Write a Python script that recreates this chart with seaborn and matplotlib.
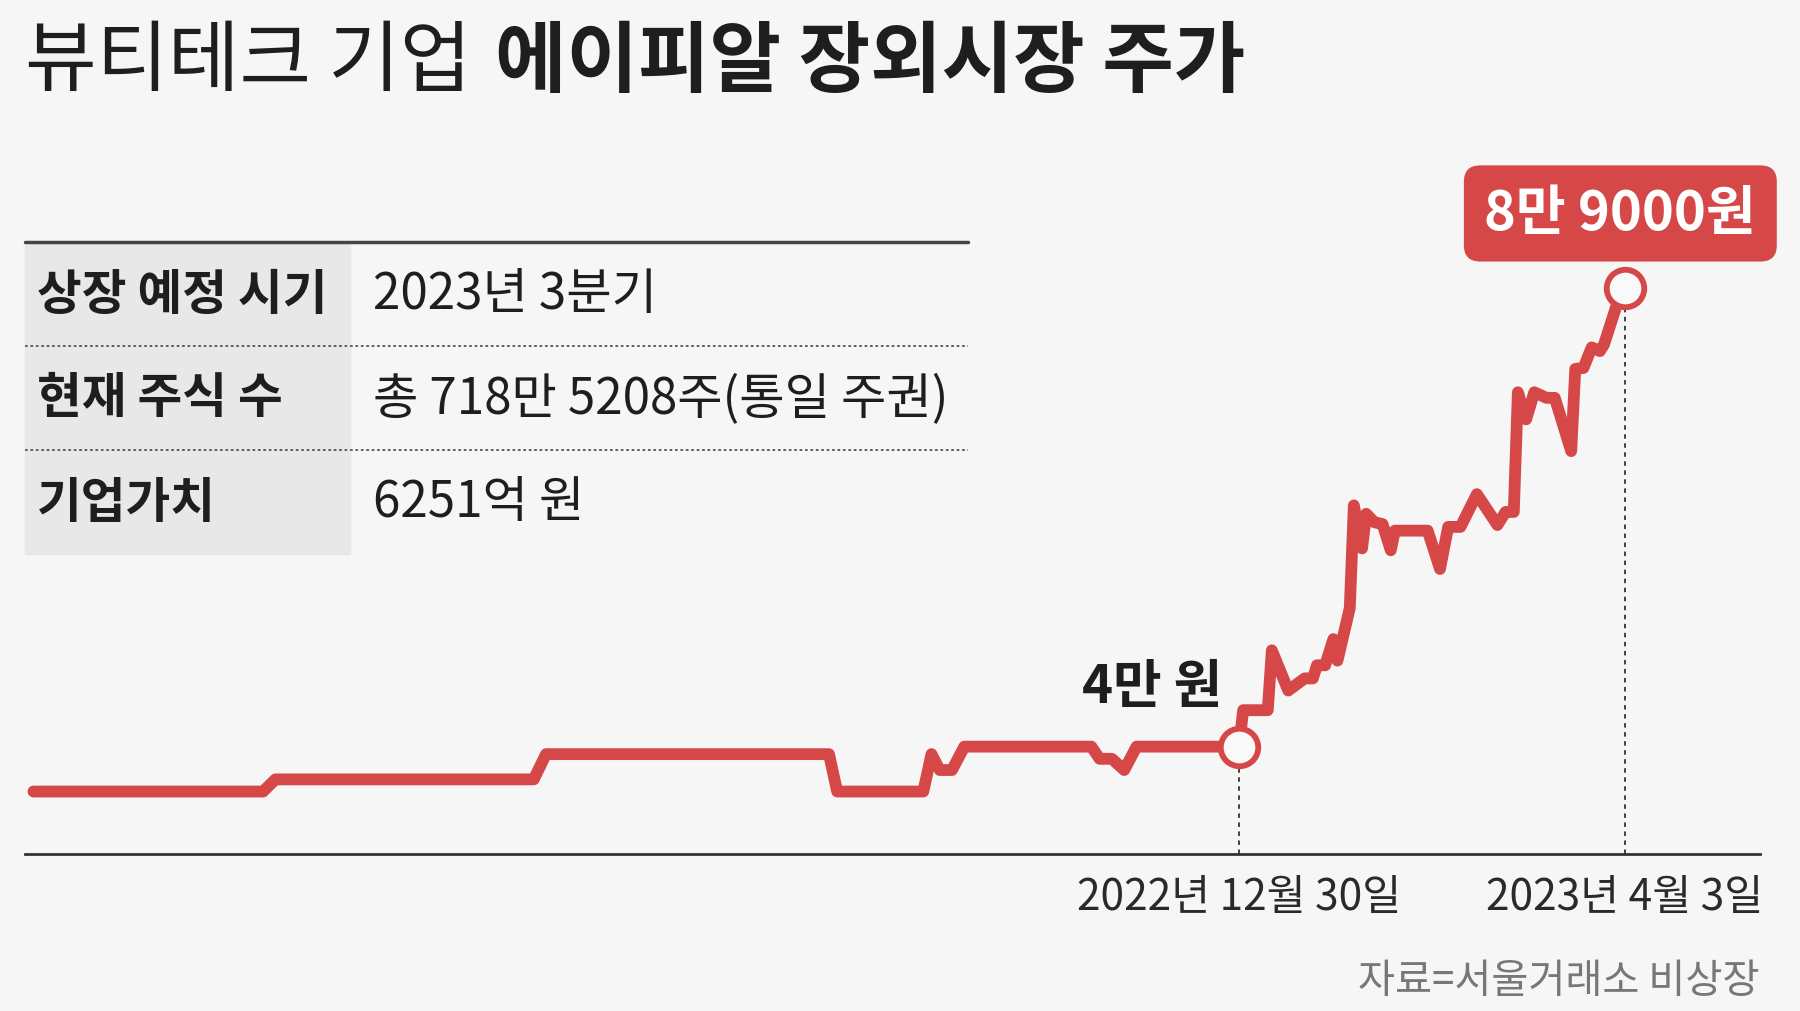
import numpy as np
import matplotlib.pyplot as plt
import pandas as pd
import seaborn as sns
from matplotlib.patches import Rectangle

# 에이피알 장외시장 주가 (원)
dates = [
    '2022-03-11', '2022-05-06', '2022-05-09', '2022-07-11', '2022-07-14',
    '2022-09-21', '2022-09-23', '2022-10-14', '2022-10-16', '2022-10-18',
    '2022-10-21', '2022-10-24', '2022-11-24', '2022-11-26', '2022-11-29',
    '2022-12-02', '2022-12-05', '2022-12-30', '2022-12-31', '2023-01-06',
    '2023-01-07', '2023-01-11', '2023-01-15', '2023-01-17', '2023-01-18',
    '2023-01-20', '2023-01-22', '2023-01-23', '2023-01-26', '2023-01-27',
    '2023-01-29', '2023-01-30', '2023-02-01', '2023-02-03', '2023-02-05',
    '2023-02-06', '2023-02-14', '2023-02-17', '2023-02-19', '2023-02-22',
    '2023-02-26', '2023-03-03', '2023-03-05', '2023-03-07', '2023-03-08',
    '2023-03-10', '2023-03-12', '2023-03-15', '2023-03-17', '2023-03-21',
    '2023-03-22', '2023-03-24', '2023-03-26', '2023-03-28', '2023-03-29',
    '2023-04-01', '2023-04-03',
]
prices = [
    35200, 35200, 36500, 36500, 39200,
    39200, 35200, 35200, 39200, 37500,
    37500, 40000, 40000, 38700, 38700,
    37500, 40000, 40000, 43900, 43900,
    50300, 46000, 47300, 47300, 48700,
    48700, 51500, 49200, 54800, 65800,
    61200, 64900, 64000, 63800, 61000,
    63100, 63100, 59000, 63500, 63500,
    67000, 63700, 65100, 65100, 77900,
    75000, 77900, 77300, 77300, 71600,
    80400, 80500, 82700, 82300, 83000,
    87100, 89000,
]

key_dates = ['2022-12-30', '2023-04-03']
tick_labels = ['2022년 12월 30일', '2023년 4월 3일']
key_labels = ['4만 원', '8만 9000원']

table_keys = ['상장 예정 시기', '현재 주식 수', '기업가치']
table_vals = ['2023년 3분기', '총 718만 5208주(통일 주권)', '6251억 원']

title_light = '뷰티테크 기업'
title_bold = '에이피알 장외시장 주가'
source = '자료=서울거래소 비상장'

RED = '#d64848'
BG = '#f6f6f6'
DARK = '#1e1e1e'

sns.set_style('white')
plt.rcParams['font.family'] = ['Noto Sans CJK KR', 'DejaVu Sans']

df = pd.DataFrame({'date': pd.to_datetime(dates), 'price': prices})
key = df[df['date'].isin(pd.to_datetime(key_dates))]

fig = plt.figure(figsize=(18, 10.12), dpi=100, facecolor=BG)
W, H = 1568, 882  # layout units of the reference

# overlay for title / table / source
bg = fig.add_axes([0, 0, 1, 1])
bg.set_xlim(0, W)
bg.set_ylim(H, 0)
bg.axis('off')

# chart area
ax = fig.add_axes([22 / W, 1 - 745 / H, (1533 - 22) / W, (745 - 150) / H])
ax.patch.set_alpha(0)

ylo = 28540
ax.vlines(key['date'], ylo, key['price'], colors='#333333', lw=1.3,
          linestyles=(0, (2.5, 2.5)), zorder=1)
sns.lineplot(data=df, x='date', y='price', ax=ax, color=RED, lw=8.5,
             solid_capstyle='round', solid_joinstyle='round', zorder=2)
ax.plot(key['date'], key['price'], 'o', ms=27, mfc='#f9f9f9', mec=RED,
        mew=4.2, zorder=3)

ax.set_xlim(pd.Timestamp('2022-03-09'), pd.Timestamp('2023-05-06'))
ax.set_ylim(ylo, 101550)
ax.set_xticks(key['date'])
ax.set_xticklabels(tick_labels)
ax.set_yticks([])
ax.set_xlabel('')
ax.set_ylabel('')
ax.tick_params(axis='x', direction='in', length=16, width=1.3, colors='#333333',
               labelcolor='#2a2a2a', labelsize=30.5, pad=15)
for s in ['top', 'right', 'left']:
    ax.spines[s].set_visible(False)
ax.spines['bottom'].set_color('#333333')
ax.spines['bottom'].set_linewidth(2)

# point labels
ax.annotate(key_labels[0], xy=(key['date'].iloc[0], key['price'].iloc[0]),
            xytext=(-12, 43), textcoords='offset points', ha='right', va='center',
            fontsize=38, fontweight='bold', color=DARK)
ax.annotate(key_labels[1], xy=(key['date'].iloc[1], key['price'].iloc[1]),
            xytext=(-3, 54), textcoords='offset points', ha='center', va='center',
            fontsize=39, fontweight='bold', color='white',
            bbox=dict(boxstyle='round,pad=0.38,rounding_size=0.3', fc=RED, ec='none'))

# title
t1 = bg.text(22, 55, title_light, fontsize=56, va='center', ha='left', color=DARK)
bg.annotate(title_bold, xy=(1, 0.5), xycoords=t1, xytext=(17, 0),
            textcoords='offset points', va='center', ha='left', fontsize=56,
            fontweight='bold', color=DARK)

# info table
row_top = [212, 302, 393]
row_h = 91
bg.add_patch(Rectangle((22, 212), 283, 272, color='#e8e8e8', zorder=0))
bg.plot([22, 843], [212, 212], color='#444444', lw=2.5)
for y in row_top[1:]:
    bg.plot([22, 843], [y, y], color='#555555', lw=1.3, ls=(0, (1.5, 1.5)))
for y, k, v in zip(row_top, table_keys, table_vals):
    bg.text(32, y + row_h / 2, k, fontsize=35, fontweight='bold', va='center',
            ha='left', color=DARK)
    bg.text(325, y + row_h / 2, v, fontsize=35.5, va='center', ha='left', color=DARK)

bg.text(1533, 855, source, fontsize=29, ha='right', va='center', color='#777777')

fig.savefig('out.png', dpi=100, facecolor=BG)
